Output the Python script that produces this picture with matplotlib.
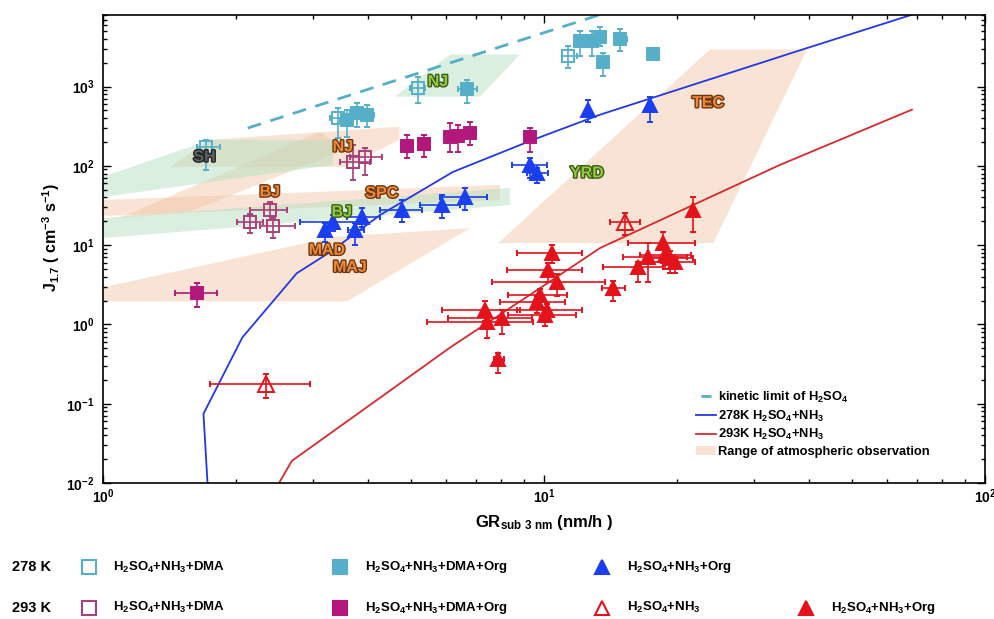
import numpy as np
import matplotlib.pyplot as plt
import matplotlib.patheffects as pe
from matplotlib.lines import Line2D
from matplotlib.patches import Patch

plt.rcParams['font.family'] = ['Liberation Sans', 'DejaVu Sans']
plt.rcParams['font.weight'] = 'bold'
plt.rcParams['mathtext.fontset'] = 'custom'
plt.rcParams['mathtext.rm'] = 'Liberation Sans:bold'
plt.rcParams['mathtext.it'] = 'Liberation Sans:bold'
plt.rcParams['mathtext.bf'] = 'Liberation Sans:bold'
plt.rcParams['mathtext.default'] = 'rm'

# ---- data (GR in nm/h, J in cm-3 s-1) ----
# 278 K, H2SO4+NH3+DMA (open light-blue squares)
gr_278_dma = [1.71, 3.41, 5.18, 11.33]
j_278_dma = [174, 405, 971, 2398]
gr_278_dma_lo = [1.63, 3.28, 4.97, 10.98]
gr_278_dma_hi = [1.84, 3.53, 5.37, 11.88]
j_278_dma_lo = [89, 226, 627, 1740]
j_278_dma_hi = [213, 542, 1340, 3206]

# 278 K, H2SO4+NH3+DMA+Org (filled light-blue squares)
gr_278_dmaorg = [3.57, 3.77, 3.97, 6.69, 12.07, 12.85, 13.40, 13.61, 14.87, 17.67]
j_278_dmaorg = [382, 469, 442, 944, 3715, 3715, 4170, 2014, 3935, 2541]
gr_278_dmaorg_lo = [3.45, 3.63, 3.83, 6.38, 11.8, 12.5, 13.1, 13.3, 14.4, 17.67]
gr_278_dmaorg_hi = [3.69, 3.93, 4.12, 7.05, 12.3, 13.2, 13.8, 13.9, 15.4, 17.67]
j_278_dmaorg_lo = [233, 312, 312, 627, 2398, 2398, 3206, 1370, 2780, 2541]
j_278_dmaorg_hi = [512, 627, 592, 1226, 4970, 4970, 5580, 2640, 5300, 2541]

# 278 K, H2SO4+NH3+Org (filled blue triangles)
gr_278_org = [3.19, 3.32, 3.73, 3.87, 4.76, 5.87, 6.62, 9.30, 9.64, 12.59, 17.39]
j_278_org = [15.5, 19.6, 15.5, 22.6, 27.7, 32.1, 40.5, 103, 81.5, 512, 592]
gr_278_org_lo = [3.19, 2.80, 3.60, 3.57, 4.25, 5.23, 5.81, 8.46, 9.15, 12.59, 17.39]
gr_278_org_hi = [3.19, 3.83, 3.90, 4.25, 5.29, 6.45, 7.43, 10.16, 10.21, 12.59, 17.39]
j_278_org_lo = [11, 15, 10, 17, 19.6, 22, 27.7, 70, 61, 361, 361]
j_278_org_hi = [19, 24, 19, 29, 37, 43, 52, 126, 95, 685, 747]

# 293 K, H2SO4+NH3+DMA (open magenta squares)
gr_293_dma = [2.15, 2.39, 2.43, 3.69, 3.93]
j_293_dma = [19.6, 27.7, 17.4, 112, 130]
gr_293_dma_lo = [2.01, 2.15, 2.27, 3.45, 3.63]
gr_293_dma_hi = [2.31, 2.61, 2.73, 4.03, 4.29]
j_293_dma_lo = [14.3, 21, 12.2, 66, 77]
j_293_dma_hi = [25, 35, 22, 184, 169]

# 293 K, H2SO4+NH3+DMA+Org (filled magenta squares)
gr_293_dmaorg = [1.63, 4.89, 5.34, 6.12, 6.38, 6.80, 9.30]
j_293_dmaorg = [2.47, 179, 190, 233, 240, 262, 233]
gr_293_dmaorg_lo = [1.46, 4.75, 5.18, 5.95, 6.25, 6.62, 9.30]
gr_293_dmaorg_hi = [1.81, 5.05, 5.52, 6.30, 6.52, 7.00, 9.30]
j_293_dmaorg_lo = [1.64, 126, 130, 150, 150, 184, 150]
j_293_dmaorg_hi = [3.3, 245, 245, 350, 330, 360, 302]

# 293 K, H2SO4+NH3 (open red triangles)
gr_293_nh3 = [2.34, 15.27]
j_293_nh3 = [0.179, 19.6]
gr_293_nh3_lo = [1.75, 14.12]
gr_293_nh3_hi = [2.95, 16.51]
j_293_nh3_lo = [0.119, 13.4]
j_293_nh3_hi = [0.24, 25.4]

# 293 K, H2SO4+NH3+Org (filled red triangles)
gr_293_org = [10.43, 10.21, 10.70, 9.79, 9.64, 10.16, 10.05, 7.35, 7.43, 8.03,
              7.87, 14.34, 16.34, 17.21, 18.61, 18.81, 19.31, 19.82, 21.78]
j_293_org = [7.92, 4.83, 3.40, 2.33, 1.90, 1.50, 1.30, 1.50, 1.06, 1.19,
             0.371, 2.86, 5.27, 7.05, 10.6, 7.47, 6.84, 6.09, 27.7]
gr_293_org_lo = [8.69, 8.25, 7.62, 8.29, 7.95, 8.69, 8.29, 5.87, 5.43, 6.06,
                 7.7, 13.54, 13.61, 15.11, 15.51, 16.5, 17.12, 17.5, 21.78]
gr_293_org_hi = [12.2, 12.2, 13.75, 11.28, 11.16, 12.2, 11.8, 8.82, 9.44, 9.39,
                 8.1, 15.27, 18.61, 21.10, 22.00, 21.5, 21.78, 22.0, 21.78]
j_293_org_lo = [5.9, 3.4, 2.3, 1.6, 1.4, 1.1, 0.95, 1.1, 0.68, 0.75,
                0.247, 2.0, 3.4, 3.4, 6.0, 5.0, 4.5, 4.5, 14.6]
j_293_org_hi = [10.0, 6.0, 4.3, 2.8, 2.3, 1.8, 1.6, 2.0, 1.4, 1.5,
                0.44, 3.5, 6.1, 10.6, 14.6, 9.0, 8.5, 7.0, 40.5]

# model / limit curves
kin_gr = [2.13, 14.0]
kin_j = [300, 8730]
line_278_gr = [1.73, 1.69, 2.07, 2.75, 3.27, 4.25, 6.22, 9.44, 13.4, 38.0, 68.7]
line_278_j = [0.008, 0.0747, 0.684, 4.42, 8.15, 24, 84, 213, 442, 2860, 8150]
line_293_gr = [2.45, 2.68, 4.25, 6.12, 9.79, 13.4, 34.3, 68.3]
line_293_j = [0.008, 0.019, 0.119, 0.51, 2.86, 9.2, 103, 512]

# ranges of atmospheric observation (GR, J vertices)
regions = [
    # (gr, j, colour)
    ([7.87, 24.2, 39.5, 23.8], [10.6, 10.6, 2940, 2940], 'peach'),        # TEC
    ([1.0, 3.32, 6.80, 3.57, 1.0], [2.94, 12.6, 16.4, 1.95, 1.95], 'peach'),  # MAD / MAJ
    ([1.0, 1.0, 7.95, 7.95], [37.1, 23.3, 37.1, 57.5], 'peach'),          # BJ / SPC
    ([1.09, 1.57, 3.54, 3.10], [22.0, 26.2, 160, 269], 'peach'),          # NJ
    ([1.75, 4.70, 4.70, 3.54, 1.42], [213, 312, 213, 97, 97], 'peach'),   # NJ
    ([1.0, 1.75, 3.32, 3.32, 1.0], [72.6, 213, 213, 103, 40.5], 'green'), # SH
    ([1.0, 1.0, 8.37, 8.37], [22.0, 12.3, 32.1, 52.7], 'green'),          # BJ
    ([4.59, 7.16, 8.82, 6.12], [747, 747, 2541, 2541], 'green'),          # NJ
]

site_names = ['SH', 'NJ', 'NJ', 'BJ', 'BJ', 'SPC', 'MAD', 'MAJ', 'YRD', 'TEC']
site_gr = [1.70, 5.75, 3.50, 2.39, 3.48, 4.29, 3.22, 3.63, 12.52, 23.55]
site_j = [130, 1157, 174, 46.9, 26.2, 45.5, 8.65, 5.27, 81.5, 627]
site_kind = ['grey', 'green', 'orange', 'orange', 'green', 'orange', 'orange',
             'orange', 'green', 'orange']

# ---- colours ----
c_lblue = '#56afc8'
c_mag_open = '#a8407a'
c_mag = '#b2187c'
c_blue = '#1b3ff0'
c_red = '#e3121b'
fill_cols = {'peach': ('#f0c3a0', 0.45), 'green': ('#b6e0c2', 0.5)}
text_cols = {'orange': ('#ee8a3a', '#6b3510'), 'green': ('#8fcb45', '#3c5a12'),
             'grey': ('#5f6466', '#222222')}

fig = plt.figure(figsize=(9.95, 6.19), dpi=100)
ax = fig.add_axes([0.1035, 0.2197, 0.8864, 0.7561])
ax.set_xscale('log')
ax.set_yscale('log')

for gx, gy, kind in regions:
    fc, al = fill_cols[kind]
    ax.fill(gx, gy, color=fc, alpha=al, lw=0, zorder=1)

ax.plot(kin_gr, kin_j, ls=(0, (5, 3.5)), color=c_lblue, lw=2, zorder=2)
ax.plot(line_278_gr, line_278_j, color='#2438e0', lw=1.3, zorder=2)
ax.plot(line_293_gr, line_293_j, color='#d42a2e', lw=1.3, zorder=2)


def draw_points(x, y, xlo, xhi, ylo, yhi, marker, color, filled, ms):
    x = np.array(x)
    y = np.array(y)
    xerr = [x - np.array(xlo), np.array(xhi) - x]
    yerr = [y - np.array(ylo), np.array(yhi) - y]
    ax.errorbar(x, y, xerr=xerr, yerr=yerr, fmt=marker, color=color,
                mfc=color if filled else 'none', mec=color, ms=ms, mew=1.4,
                elinewidth=1.2, capsize=2.5, capthick=1.2, zorder=4)


draw_points(gr_278_dma, j_278_dma, gr_278_dma_lo, gr_278_dma_hi,
            j_278_dma_lo, j_278_dma_hi, 's', c_lblue, False, 9)
draw_points(gr_278_dmaorg, j_278_dmaorg, gr_278_dmaorg_lo, gr_278_dmaorg_hi,
            j_278_dmaorg_lo, j_278_dmaorg_hi, 's', c_lblue, True, 9)
draw_points(gr_278_org, j_278_org, gr_278_org_lo, gr_278_org_hi,
            j_278_org_lo, j_278_org_hi, '^', c_blue, True, 10)
draw_points(gr_293_dma, j_293_dma, gr_293_dma_lo, gr_293_dma_hi,
            j_293_dma_lo, j_293_dma_hi, 's', c_mag_open, False, 9)
draw_points(gr_293_dmaorg, j_293_dmaorg, gr_293_dmaorg_lo, gr_293_dmaorg_hi,
            j_293_dmaorg_lo, j_293_dmaorg_hi, 's', c_mag, True, 9)
draw_points(gr_293_nh3, j_293_nh3, gr_293_nh3_lo, gr_293_nh3_hi,
            j_293_nh3_lo, j_293_nh3_hi, '^', c_red, False, 11)
draw_points(gr_293_org, j_293_org, gr_293_org_lo, gr_293_org_hi,
            j_293_org_lo, j_293_org_hi, '^', c_red, True, 10)

for name, gx, gy, kind in zip(site_names, site_gr, site_j, site_kind):
    fc, ec = text_cols[kind]
    ax.text(gx, gy, name, color=fc, fontsize=11.5, fontweight='bold',
            ha='center', va='center', zorder=5,
            path_effects=[pe.withStroke(linewidth=2, foreground=ec)])

ax.set_xlim(1, 100)
ax.set_ylim(1e-2, 8e3)
ax.tick_params(which='both', direction='in', top=True, right=True,
               labelsize=10, width=1)
ax.tick_params(which='major', length=6)
ax.tick_params(which='minor', length=3)
ax.tick_params(axis='y', pad=6)
for s in ax.spines.values():
    s.set_linewidth(1.2)
ax.set_xlabel(r'GR$_{\rm sub\ 3\ nm}$ (nm/h )', fontsize=12, fontweight='bold',
              labelpad=5)
ax.set_ylabel(r'J$_{1.7}$ ( cm$^{-3}$ s$^{-1}$)', fontsize=11.5, fontweight='bold')
ax.yaxis.set_label_coords(-0.046, 0.525)

handles = [Line2D([], [], color=c_lblue, marker='_', ls='none', ms=7, mew=2),
           Line2D([], [], color='#2438e0', lw=1.3),
           Line2D([], [], color='#d42a2e', lw=1.3),
           Patch(facecolor='#f0c3a0', alpha=0.45, lw=0)]
labels = [r'kinetic limit of H$_2$SO$_4$', r'278K H$_2$SO$_4$+NH$_3$',
          r'293K H$_2$SO$_4$+NH$_3$', 'Range of atmospheric observation']
leg = ax.legend(handles, labels, loc='upper left', bbox_to_anchor=(0.667, 0.21),
                frameon=False, fontsize=9.3, handlelength=1.5, handletextpad=0.2,
                labelspacing=0.28, borderaxespad=0)

# ---- bottom legend ----
row_y = [0.084, 0.018]
row_names = ['278 K', '293 K']
key_x = [0.089, 0.342, 0.605, 0.81]
key_labels = [r'H$_2$SO$_4$+NH$_3$+DMA', r'H$_2$SO$_4$+NH$_3$+DMA+Org',
              r'H$_2$SO$_4$+NH$_3$+Org', r'H$_2$SO$_4$+NH$_3$']
row_keys = [
    [(0, 's', c_lblue, False, key_labels[0]), (1, 's', c_lblue, True, key_labels[1]),
     (2, '^', c_blue, True, key_labels[2])],
    [(0, 's', c_mag_open, False, key_labels[0]), (1, 's', c_mag, True, key_labels[1]),
     (2, '^', c_red, False, key_labels[3]), (3, '^', c_red, True, key_labels[2])],
]
for ry, rname, keys in zip(row_y, row_names, row_keys):
    fig.text(0.012, ry, rname, fontsize=10.5, fontweight='bold', va='center')
    for col, mk, colr, filled, lab in keys:
        kx = key_x[col]
        fig.add_artist(Line2D([kx], [ry], marker=mk, ms=10, color=colr,
                              mfc=colr if filled else 'none', mec=colr, mew=1.5,
                              transform=fig.transFigure))
        fig.text(kx + 0.025, ry, lab, fontsize=9.5, fontweight='bold', va='center')

fig.savefig('out.png', dpi=100)
